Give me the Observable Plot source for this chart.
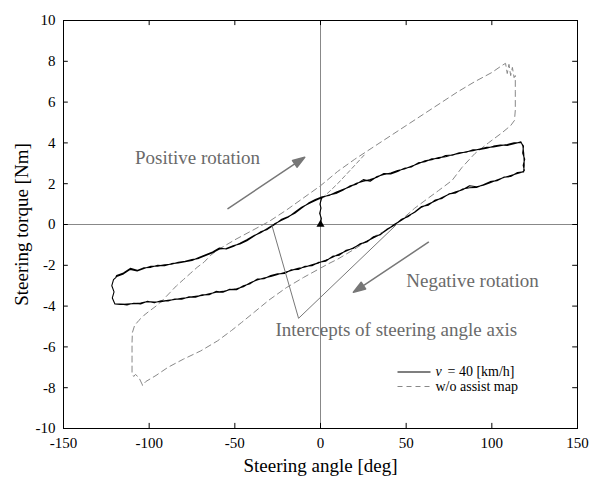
<!DOCTYPE html>
<html><head><meta charset="utf-8">
<script src="https://cdn.jsdelivr.net/npm/d3@7"></script>
<script src="https://cdn.jsdelivr.net/npm/@observablehq/plot@0.6"></script>
<style>
body{margin:0;background:#fff;}
#chart{position:absolute;left:0;top:0;}
</style></head><body><div id="chart"></div>
<script>
// ---- tick labels ----
const xTicks = [-150, -100, -50, 0, 50, 100, 150];
const yTicks = [-10, -8, -6, -4, -2, 0, 2, 4, 6, 8, 10];

// ---- v = 40 km/h (solid) ----
const startAngle  = [0, 0.5, -0.5, 0.3, -0.3, 0.5];
const startTorque = [0, 0.3, 0.55, 0.8, 1.0, 1.25];

const upperAngle = [-119,-115,-111,-107,-103,-99,-95,-91,-87,-83,-79,-75,-71,-67,-63,-59,-55,-51,-47,-43,-39,-35,-31,-27,-23,-19,-15,-11,-7,-3,1,5,9,13,17,21,25,29,33,37,41,45,49,53,57,61,65,69,73,77,81,85,89,93,97,101,105,109,113,117];
const upperTorqueA = [-2.5,-2.38,-2.15,-2.25,-2.12,-2.1,-2.0,-2.02,-1.92,-1.88,-1.82,-1.76,-1.62,-1.48,-1.35,-1.15,-1.2,-1.08,-0.92,-0.75,-0.55,-0.4,-0.2,0.02,0.2,0.35,0.6,0.85,1.02,1.18,1.32,1.45,1.52,1.68,1.88,1.98,2.2,2.12,2.35,2.45,2.52,2.65,2.72,2.85,2.98,3.12,3.18,3.28,3.32,3.42,3.48,3.57,3.62,3.7,3.78,3.8,3.86,3.92,4.0,4.02];
const upperTorqueB = [-2.55,-2.42,-2.2,-2.28,-2.16,-2.05,-2.04,-1.97,-1.95,-1.85,-1.8,-1.72,-1.66,-1.52,-1.38,-1.2,-1.18,-1.04,-0.95,-0.8,-0.58,-0.36,-0.24,-0.02,0.24,0.38,0.55,0.8,1.05,1.22,1.36,1.42,1.58,1.72,1.84,2.02,2.12,2.2,2.32,2.5,2.48,2.6,2.76,2.82,3.02,3.08,3.22,3.24,3.38,3.4,3.52,3.54,3.66,3.68,3.74,3.84,3.9,3.88,3.96,4.05];

const rightAngle  = [118.5, 118, 119.2, 118.3, 119, 118];
const rightTorque = [3.85, 3.5, 3.2, 2.9, 2.65, 2.58];

const lowerAngle = [115,111,107,103,99,95,91,87,83,79,75,71,67,63,59,55,51,47,43,39,35,31,27,23,19,15,11,7,3,-1,-5,-9,-13,-17,-21,-25,-29,-33,-37,-41,-45,-49,-53,-57,-61,-65,-69,-73,-77,-81,-85,-89,-93,-97,-101,-105,-109,-113,-117];
const lowerTorqueA = [2.5,2.4,2.3,2.18,2.05,1.92,1.85,1.9,1.7,1.6,1.48,1.32,1.15,1.0,0.85,0.6,0.42,0.2,0.0,-0.25,-0.48,-0.65,-0.82,-0.98,-1.15,-1.3,-1.45,-1.6,-1.75,-1.88,-1.98,-2.08,-2.15,-2.25,-2.35,-2.45,-2.55,-2.62,-2.72,-2.85,-3.05,-3.15,-3.2,-3.28,-3.32,-3.4,-3.48,-3.52,-3.58,-3.62,-3.68,-3.72,-3.78,-3.8,-3.78,-3.85,-3.88,-3.9,-3.92];
const lowerTorqueB = [2.55,2.35,2.32,2.15,2.1,1.95,1.82,1.8,1.74,1.55,1.5,1.28,1.2,0.95,0.88,0.62,0.38,0.24,-0.04,-0.22,-0.5,-0.6,-0.86,-0.95,-1.18,-1.26,-1.5,-1.56,-1.8,-1.85,-2.02,-2.05,-2.2,-2.22,-2.4,-2.42,-2.5,-2.66,-2.68,-2.9,-3.0,-3.2,-3.18,-3.32,-3.28,-3.44,-3.45,-3.56,-3.55,-3.66,-3.65,-3.75,-3.74,-3.84,-3.76,-3.9,-3.86,-3.94,-3.9];

const leftAngle  = [-120, -121.5, -120.5, -121.8, -120.8, -119.5];
const leftTorque = [-3.9, -3.6, -3.3, -3.0, -2.7, -2.6];

// ---- w/o assist map (dashed) ----
const dashAngle  = [-104,-106,-108,-109,-110,-110,-110,-109.8,-108.5,-106,-103,-100,-96,-92,-88,-84,-80,-76,-72,-68,-64,-60,-50,-40,-30,-20,-10,0,10,20,30,40,50,60,70,80,90,100,106,108,109,110,111,112,113,113.7,113.7,113.7,113.2,111,106,98,90,82.6,76.8,69,63,55,45.5,40,30,20,10,4.5,-10,-20,-30,-38.7,-46,-52,-60,-70,-80,-89,-96,-102,-104];
const dashTorque = [-7.85,-7.5,-7.35,-7.45,-7.3,-6.5,-5.8,-5.3,-4.95,-4.7,-4.45,-4.25,-4.0,-3.7,-3.35,-3.0,-2.7,-2.4,-2.1,-1.85,-1.5,-1.25,-0.75,-0.3,0.15,0.7,1.3,1.9,2.6,3.2,3.75,4.3,4.85,5.4,5.95,6.5,7.0,7.45,7.8,7.9,7.4,7.85,7.3,7.7,7.2,7.3,6.5,5.6,5.1,4.85,4.5,4.0,3.47,2.8,2.16,1.67,1.3,0.8,0.1,-0.2,-0.65,-1.2,-1.7,-1.93,-2.6,-3.1,-3.7,-4.3,-4.8,-5.2,-5.7,-6.2,-6.6,-7.0,-7.4,-7.7,-7.9];
const dashStartAngle  = [1, 5, 10, 15, 20, 26];
const dashStartTorque = [1.3, 1.6, 2.0, 2.45, 2.9, 3.45];

// ---- annotations ----
const noteTexts = ["Positive rotation", "Negative rotation"];
const noteAngle = [-71.8, 88.7];
const noteTorque = [3.24, -2.75];
const interceptText = "Intercepts of steering angle axis";
const interceptAngle = [-28.5, 44.4];
const interceptTip = [-12.8, -4.6];
const interceptLabelAt = [-26.3, -5.15];
const arrowFrom = [[-54, 0.78], [63, -0.87]];
const arrowTo   = [[-9.2, 3.3], [19.2, -3.32]];
const legendSymbol = "v";
const legendLabels = ["= 40 [km/h]", "w/o assist map"];

// ---- build data ----
const zip = (a, t) => a.slice(0, Math.min(a.length, t.length)).map((x, i) => ({a: x, t: t[i]}));
const upA = zip(upperAngle, upperTorqueA), upB = zip(upperAngle, upperTorqueB);
const solid = [
  ...zip(startAngle, startTorque),
  ...upA.filter(d => d.a >= 1),
  ...zip(rightAngle, rightTorque),
  ...zip(lowerAngle, lowerTorqueA),
  ...zip(leftAngle, leftTorque),
  ...upB,
  ...zip(rightAngle.map((v, i) => v + (i % 2 ? 0.6 : -0.4)), rightTorque),
  ...zip(lowerAngle, lowerTorqueB),
  ...zip(leftAngle, leftTorque),
  ...upA.filter(d => d.a <= 1)
];
const dashed = zip(dashAngle, dashTorque);
const dashedStart = zip(dashStartAngle, dashStartTorque);

const W = 590, H = 480, ML = 63, MR = 13, MT = 20, MB = 52;
const xDom = [-150, 150], yDom = [-10, 10];
const xs = Plot.scale({x: {domain: xDom, range: [ML, W - MR]}});
const ys = Plot.scale({y: {domain: yDom, range: [H - MB, MT]}});

const arrowShape = {
  draw(context, l) {
    const h = 12, w = 4;
    context.moveTo(0, 0);
    context.lineTo(0, -(l - h));
    context.moveTo(-w, -(l - h));
    context.lineTo(0, -l);
    context.lineTo(w, -(l - h));
    context.closePath();
  }
};
const arrowMarks = arrowFrom.map((f, i) => {
  const t = arrowTo[i];
  const dx = xs.apply(t[0]) - xs.apply(f[0]);
  const dy = ys.apply(t[1]) - ys.apply(f[1]);
  const L = Math.hypot(dx, dy);
  const R = Math.atan2(dx, -dy) * 180 / Math.PI;
  return Plot.vector([{a: f[0], t: f[1]}], {x: "a", y: "t", length: L, rotate: R, anchor: "start",
    shape: arrowShape, stroke: "#777", fill: "#777", strokeWidth: 1.5});
});

// legend geometry (pixel layout -> data units through the scales)
const legX1 = xs.invert(397), legX2 = xs.invert(430), legVX = xs.invert(435), legTX = xs.invert(447), legTX2 = xs.invert(435);
const legY = [ys.invert(371.5), ys.invert(386)];
const legendRows = legendLabels.map((s, i) => ({label: s, y: legY[i], dash: i === 1, x: i === 0 ? legTX : legTX2}));

const gray = "#777";
const fmt = d => String(d);
const plot = Plot.plot({
  width: W, height: H,
  marginLeft: ML, marginRight: MR, marginTop: MT, marginBottom: MB,
  style: {fontFamily: "'Liberation Serif', 'Times New Roman', serif", fontSize: "15px", color: "#000", background: "#fff"},
  x: {domain: xDom},
  y: {domain: yDom},
  marks: [
    Plot.ruleX([0], {stroke: "#888", strokeWidth: 1}),
    Plot.ruleY([0], {stroke: "#888", strokeWidth: 1}),
    Plot.line(dashed, {x: "a", y: "t", stroke: "#888", strokeWidth: 1, strokeDasharray: "6,4"}),
    Plot.line(dashedStart, {x: "a", y: "t", stroke: "#888", strokeWidth: 1, strokeDasharray: "4,3"}),
    Plot.line(solid, {x: "a", y: "t", stroke: "#000", strokeWidth: 1.1, curve: "linear"}),
    Plot.dot([{a: 0, t: 0}], {x: "a", y: "t", symbol: "triangle", r: 3, fill: "#000"}),
    // intercept pointers
    Plot.link(interceptAngle.map(a => ({x1: a, y1: 0, x2: interceptTip[0], y2: interceptTip[1]})),
      {x1: "x1", y1: "y1", x2: "x2", y2: "y2", stroke: gray, strokeWidth: 1}),
    Plot.text([interceptText], {x: interceptLabelAt[0], y: interceptLabelAt[1], textAnchor: "start", fontSize: 19, fill: "#6a6a6a"}),
    Plot.text(noteTexts.map((s, i) => ({s, a: noteAngle[i], t: noteTorque[i]})), {x: "a", y: "t", text: "s", fontSize: 19, fill: "#6a6a6a"}),
    ...arrowMarks,
    // legend
    Plot.link(legendRows.filter(d => !d.dash), {x1: legX1, x2: legX2, y1: "y", y2: "y", stroke: "#000", strokeWidth: 1.1}),
    Plot.link(legendRows.filter(d => d.dash), {x1: legX1, x2: legX2, y1: "y", y2: "y", stroke: "#888", strokeWidth: 1, strokeDasharray: "5,4"}),
    Plot.text([legendSymbol], {x: legVX, y: legY[0], textAnchor: "start", fontSize: 14, fontStyle: "italic", fill: "#000"}),
    Plot.text(legendRows, {x: "x", y: "y", text: "label", textAnchor: "start", fontSize: 14, fill: "#000"}),
    // frame & ticks (inward)
    Plot.frame({stroke: "#000", strokeWidth: 1}),
    Plot.ruleX(xTicks.slice(1, -1), {y1: yDom[0], y2: yDom[0] + 0.25, stroke: "#000"}),
    Plot.ruleX(xTicks.slice(1, -1), {y1: yDom[1], y2: yDom[1] - 0.25, stroke: "#000"}),
    Plot.ruleY(yTicks.slice(1, -1), {x1: xDom[0], x2: xDom[0] + 2.8, stroke: "#000"}),
    Plot.ruleY(yTicks.slice(1, -1), {x1: xDom[1], x2: xDom[1] - 2.8, stroke: "#000"}),
    Plot.axisX(xTicks, {tickSize: 0, tickPadding: 9, tickFormat: fmt, label: null, fontSize: 15}),
    Plot.axisY(yTicks, {tickSize: 0, tickPadding: 8, tickFormat: fmt, label: null, fontSize: 15}),
    Plot.text(["Steering angle [deg]"], {frameAnchor: "bottom", dy: 37, textAnchor: "middle", lineAnchor: "middle", fontSize: 19, fill: "#000"}),
    Plot.text(["Steering torque [Nm]"], {frameAnchor: "left", dx: -42, rotate: -90, textAnchor: "middle", lineAnchor: "middle", fontSize: 19, fill: "#000"})
  ]
});

document.getElementById("chart").appendChild(plot);
</script>
</body></html>
